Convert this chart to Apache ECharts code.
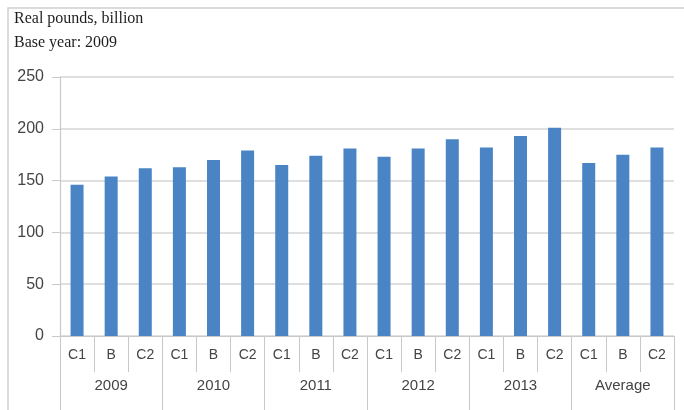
<!DOCTYPE html>
<html>
<head>
<meta charset="utf-8">
<script src="https://cdn.jsdelivr.net/npm/echarts@6/dist/echarts.min.js"></script>
<style>
  html, body { margin: 0; padding: 0; background: #fff; }
  #main { width: 684px; height: 410px; }
</style>
</head>
<body>
<div id="main"></div>
<script>
// scenario labels, repeated per year group
const scenarios = ['C1', 'B', 'C2', 'C1', 'B', 'C2', 'C1', 'B', 'C2',
                   'C1', 'B', 'C2', 'C1', 'B', 'C2', 'C1', 'B', 'C2']
const groups = ['2009', '2010', '2011', '2012', '2013', 'Average']
// real pounds, billion
const values = [146, 154, 162, 163, 170, 179, 165, 174, 181,
                173, 181, 190, 182, 193, 201, 167, 175, 182]
const yTicks = [0, 50, 100, 150, 200, 250]

const chart = echarts.init(document.getElementById('main'))

const labelFont = 'Liberation Sans'
const lineColor = '#c8c8c8'

let option = {
    backgroundColor: '#fff',
    animation: false,
    graphic: [
        {
            type: 'polyline',
            shape: {points: [[8, 410], [8, 8], [684, 8]]},
            style: {stroke: '#cfcfcf', lineWidth: 1.5, fill: null}
        },
        {
            type: 'text', left: 14, top: 11,
            style: {text: 'Real pounds, billion', font: '16px "Liberation Serif"', fill: '#1e1e1e'}
        },
        {
            type: 'text', left: 14, top: 35,
            style: {text: 'Base year: 2009', font: '16px "Liberation Serif"', fill: '#1e1e1e'}
        }
    ],
    grid: {left: 60, right: 10, top: 77, bottom: 74},
    xAxis: [
        {
            type: 'category',
            data: scenarios,
            position: 'bottom',
            axisLine: {lineStyle: {color: lineColor, width: 1.2}},
            axisTick: {show: true, interval: 0, length: 36, lineStyle: {color: lineColor}},
            axisLabel: {interval: 0, margin: 12, fontSize: 14, color: '#444', fontFamily: labelFont}
        },
        {
            type: 'category',
            data: groups,
            position: 'bottom',
            axisLine: {show: false},
            axisTick: {show: true, interval: 0, length: 74, lineStyle: {color: lineColor}},
            axisLabel: {interval: 0, margin: 42, fontSize: 15, color: '#444', fontFamily: labelFont}
        }
    ],
    yAxis: {
        type: 'value',
        min: yTicks[0],
        max: yTicks[yTicks.length - 1],
        interval: 50,
        axisLine: {show: true, lineStyle: {color: lineColor, width: 1.2}},
        axisTick: {show: true, length: 8, lineStyle: {color: lineColor}},
        axisLabel: {margin: 16, fontSize: 16, color: '#444', fontFamily: labelFont},
        splitLine: {lineStyle: {color: '#d4d4d4', width: 1.5}}
    },
    series: [{
        type: 'bar',
        xAxisIndex: 0,
        data: values,
        barWidth: 13,
        itemStyle: {color: '#4a84c4'}
    }]
}

chart.setOption(option)
</script>
</body>
</html>
